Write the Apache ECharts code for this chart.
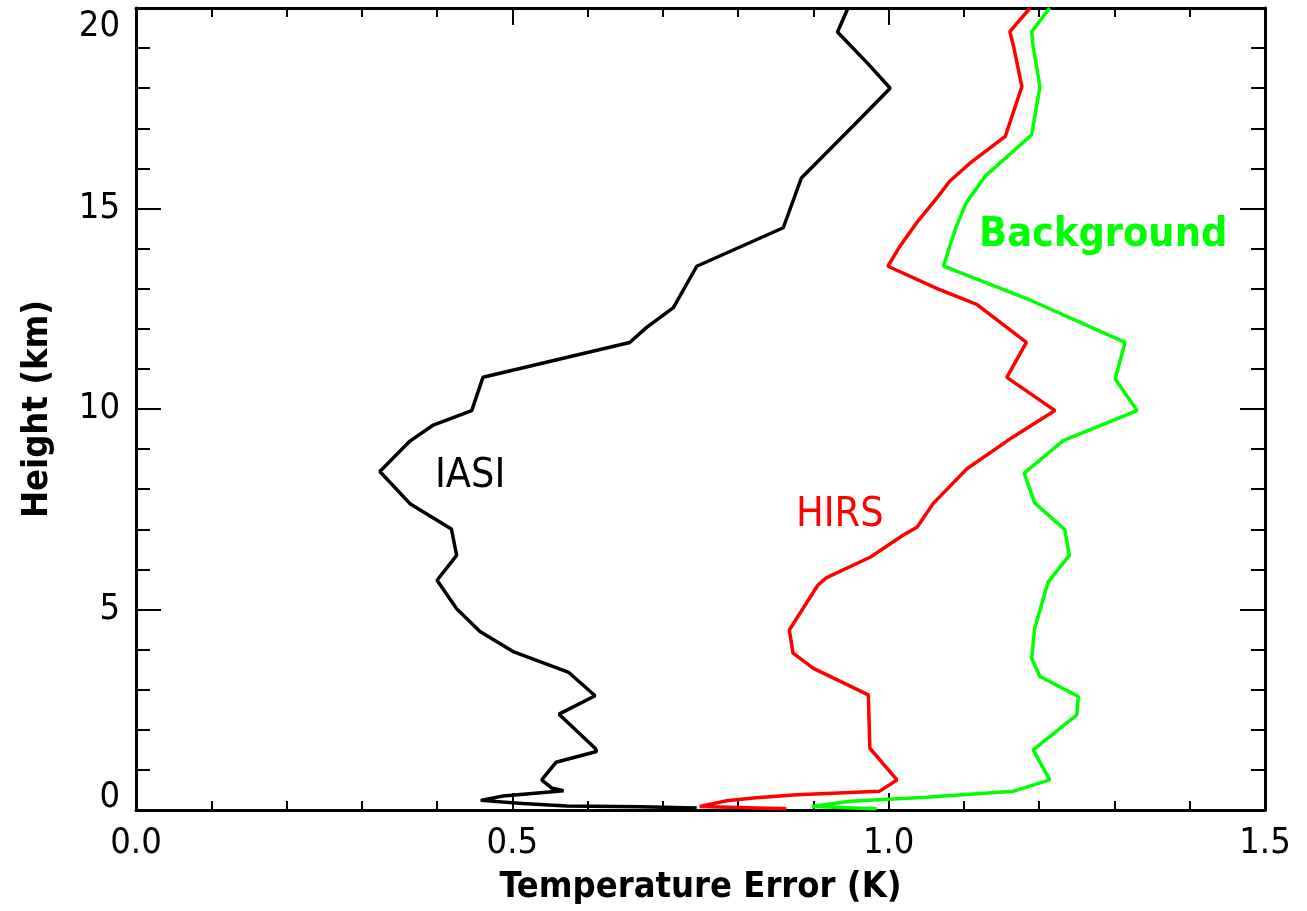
<!DOCTYPE html>
<html>
<head>
<meta charset="utf-8">
<script src="https://cdn.jsdelivr.net/npm/echarts@6/dist/echarts.min.js"></script>
<style>
html,body{margin:0;padding:0;background:#fff;}
#c{width:1307px;height:911px;}
</style>
</head>
<body>
<div id="c"></div>
<script>
// ---- data (temperature error in K vs height in km) ----
const iasiX = [0.946,0.932,0.973,1.002,0.955,0.884,0.860,0.745,0.714,0.678,0.656,0.461,0.446,0.395,0.364,0.324,0.364,0.419,0.426,0.400,0.426,0.457,0.501,0.575,0.610,0.562,0.610,0.612,0.558,0.539,0.552,0.568,0.488,0.458,0.514,0.572,0.670,0.745];
const iasiH = [20.0,19.4,18.6,18.0,17.1,15.76,14.52,13.56,12.53,12.03,11.66,10.79,9.96,9.6,9.2,8.44,7.64,7.01,6.35,5.73,5.02,4.45,3.95,3.43,2.85,2.39,1.54,1.46,1.19,0.75,0.55,0.48,0.35,0.24,0.16,0.10,0.08,0.05];

const hirsX = [1.188,1.161,1.166,1.177,1.155,1.108,1.081,1.066,1.037,1.015,0.999,1.066,1.117,1.183,1.157,1.221,1.161,1.104,1.059,1.038,1.019,0.976,0.917,0.906,0.868,0.873,0.900,0.973,0.975,1.011,0.988,0.878,0.820,0.785,0.749,0.864];
const hirsH = [20.0,19.41,19.04,18.04,16.8,16.13,15.68,15.31,14.64,14.06,13.56,12.99,12.61,11.66,10.79,9.96,9.25,8.51,7.64,7.06,6.85,6.31,5.79,5.61,4.49,3.91,3.53,2.87,1.54,0.75,0.47,0.38,0.30,0.23,0.09,0.03];

const bgX = [1.214,1.190,1.192,1.201,1.190,1.128,1.103,1.090,1.081,1.073,1.190,1.314,1.301,1.330,1.232,1.180,1.194,1.234,1.240,1.212,1.194,1.190,1.201,1.252,1.250,1.192,1.214,1.166,1.050,0.949,0.898,0.984];
const bgH = [20.0,19.41,19.04,18.04,16.84,15.8,15.14,14.56,14.06,13.56,12.7,11.66,10.75,9.96,9.21,8.40,7.66,6.99,6.35,5.69,4.53,3.78,3.33,2.83,2.37,1.50,0.75,0.47,0.32,0.22,0.09,0.03];

const xTickLabels = ['0.0','0.5','1.0','1.5'];
const yTickLabels = ['0','5','10','15','20'];

const labelNames = ['IASI','HIRS','Background'];
const labelX = [0.444,0.935,1.285];
const labelH = [8.32,7.34,14.34];

// ---- build ----
const pairs = (xs, hs) => xs.map((x, i) => [x, hs[i]]);
const FONT = '"DejaVu Sans Condensed", "DejaVu Sans", sans-serif';
const colors = ['#000000', '#ff0000', '#00ff00'];
const labelWeights = ['normal','normal','bold'];

const chart = echarts.init(document.getElementById('c'), null, {renderer: 'canvas'});

const axisCommonX = {
  type: 'value', min: 0, max: 1.5, interval: 0.5,
  splitLine: {show: false},
  axisLine: {show: true, onZero: false, lineStyle: {color: '#000', width: 3}},
  axisTick: {show: true, inside: true, length: 17, lineStyle: {color: '#000', width: 2}},
  minorTick: {show: true, splitNumber: 5, length: 9, lineStyle: {color: '#000', width: 2}}
};
const axisCommonY = {
  type: 'value', min: 0, max: 20, interval: 5,
  splitLine: {show: false},
  axisLine: {show: true, onZero: false, lineStyle: {color: '#000', width: 3}},
  axisTick: {show: true, inside: true, length: 25, lineStyle: {color: '#000', width: 2}},
  minorTick: {show: true, splitNumber: 5, length: 14, lineStyle: {color: '#000', width: 2}}
};

const option = {
  animation: false,
  backgroundColor: '#ffffff',
  grid: {left: 136, right: 42, top: 8, bottom: 99, containLabel: false},
  xAxis: [
    Object.assign({}, axisCommonX, {
      position: 'bottom',
      name: 'Temperature Error (K)',
      nameLocation: 'middle',
      nameGap: 60,
      nameTextStyle: {fontFamily: FONT, fontSize: 36, fontWeight: 'bold', color: '#000'},
      axisLabel: {
        show: true, margin: 16, fontFamily: FONT, fontSize: 36, color: '#000',
        formatter: v => xTickLabels[Math.round(v / 0.5)]
      }
    }),
    Object.assign({}, axisCommonX, {position: 'top', axisLabel: {show: false}})
  ],
  yAxis: [
    Object.assign({}, axisCommonY, {
      position: 'left',
      name: 'Height (km)',
      nameLocation: 'middle',
      nameGap: 80,
      nameRotate: 90,
      nameTextStyle: {fontFamily: FONT, fontSize: 36, fontWeight: 'bold', color: '#000'},
      axisLabel: {
        show: true, margin: 16, fontFamily: FONT, fontSize: 36, color: '#000',
        formatter: v => {
          const s = yTickLabels[Math.round(v / 5)];
          if (v === 20) return '{t|' + s + '}';
          if (v === 0) return '{b|' + s + '}';
          return s;
        },
        rich: {
          t: {fontFamily: FONT, fontSize: 36, color: '#000', padding: [38, 0, 0, 0]},
          b: {fontFamily: FONT, fontSize: 36, color: '#000', padding: [0, 0, 25, 0]}
        }
      }
    }),
    Object.assign({}, axisCommonY, {position: 'right', axisLabel: {show: false}})
  ],
  series: [
    {name: 'IASI', type: 'line', data: pairs(iasiX, iasiH)},
    {name: 'HIRS', type: 'line', data: pairs(hirsX, hirsH)},
    {name: 'Background', type: 'line', data: pairs(bgX, bgH)}
  ].map((s, i) => Object.assign(s, {
    xAxisIndex: 0, yAxisIndex: 0, showSymbol: false, symbol: 'none', smooth: false,
    lineStyle: {color: colors[i], width: 3.5}, itemStyle: {color: colors[i]}, z: 3
  })).concat([{
    name: 'labels', type: 'scatter', xAxisIndex: 0, yAxisIndex: 0,
    symbolSize: 0, silent: true, z: 4,
    itemStyle: {opacity: 1},
    data: labelNames.map((n, i) => ({
      value: [labelX[i], labelH[i]],
      itemStyle: {opacity: 1, color: colors[i]},
      label: {
        show: true, position: 'inside', formatter: n, opacity: 1,
        fontFamily: FONT, fontSize: 41, fontWeight: labelWeights[i], color: colors[i]
      }
    }))
  }])
};

chart.setOption(option);
</script>
</body>
</html>
